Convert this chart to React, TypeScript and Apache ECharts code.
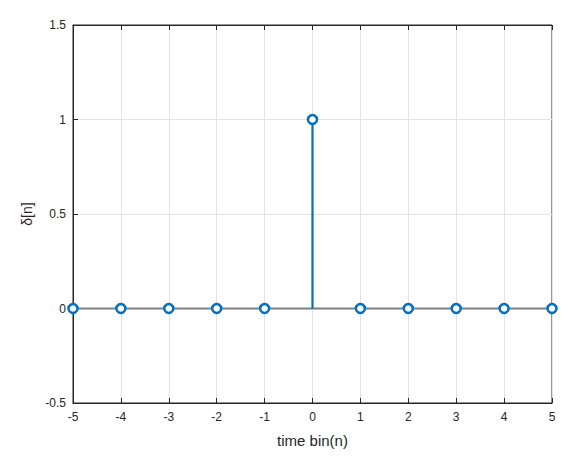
import React, { useEffect, useRef } from "react";
import * as echarts from "echarts";

const nValues = [-5, -4, -3, -2, -1, 0, 1, 2, 3, 4, 5];
const deltaValues = [0, 0, 0, 0, 0, 1, 0, 0, 0, 0, 0];
const xTicks = { min: -5, max: 5, interval: 1 };
const yTicks = { min: -0.5, max: 1.5, interval: 0.5 };
const xLabel = "time bin(n)";
const yLabel = "δ[n]";

export default function App() {
  const ref = useRef<HTMLDivElement>(null);
  useEffect(() => {
    if (!ref.current) return;
    const chart = echarts.init(ref.current, null, { renderer: "svg" });
    const points = nValues.map((n, i) => [n, deltaValues[i]]);
    const blue = "#0072BD";
    const axisColor = "#262626";
    const font = "Arial, 'Liberation Sans', sans-serif";
    chart.setOption({
      animation: false,
      backgroundColor: "#ffffff",
      grid: {
        left: 73,
        right: 33,
        top: 25,
        bottom: 72,
        show: true,
        borderColor: axisColor,
        borderWidth: 1,
        backgroundColor: "#ffffff",
      },
      xAxis: [
        {
          type: "value",
          min: xTicks.min,
          max: xTicks.max,
          interval: xTicks.interval,
          position: "bottom",
          name: xLabel,
          nameLocation: "middle",
          nameGap: 30,
          nameTextStyle: { color: axisColor, fontSize: 15, fontFamily: font },
          axisLine: { show: true, onZero: false, lineStyle: { color: axisColor, width: 1 } },
          axisTick: { show: true, inside: true, length: 5, lineStyle: { color: axisColor } },
          axisLabel: { color: axisColor, fontSize: 12, fontFamily: font, margin: 8 },
          splitLine: { show: true, lineStyle: { color: "#e3e3e3", width: 1 } },
        },
        {
          type: "value",
          min: xTicks.min,
          max: xTicks.max,
          interval: xTicks.interval,
          position: "top",
          axisLine: { show: true, onZero: false, lineStyle: { color: axisColor, width: 1 } },
          axisTick: { show: true, inside: true, length: 5, lineStyle: { color: axisColor } },
          axisLabel: { show: false },
          splitLine: { show: false },
        },
      ],
      yAxis: [
        {
          type: "value",
          min: yTicks.min,
          max: yTicks.max,
          interval: yTicks.interval,
          position: "left",
          name: yLabel,
          nameLocation: "middle",
          nameGap: 37,
          nameRotate: 90,
          nameTextStyle: { color: axisColor, fontSize: 14, fontFamily: font },
          axisLine: { show: true, onZero: false, lineStyle: { color: axisColor, width: 1 } },
          axisTick: { show: true, inside: true, length: 5, lineStyle: { color: axisColor } },
          axisLabel: { color: axisColor, fontSize: 12, fontFamily: font, margin: 7 },
          splitLine: { show: true, lineStyle: { color: "#e3e3e3", width: 1 } },
        },
      ],
      series: [
        {
          type: "line",
          data: [
            [xTicks.min, 0],
            [xTicks.max, 0],
          ],
          showSymbol: false,
          symbol: "none",
          lineStyle: { color: "#808080", width: 2 },
          silent: true,
          z: 2,
        },
        {
          type: "custom",
          data: points,
          z: 3,
          renderItem: (params: any, api: any) => {
            const x = api.value(0);
            const y = api.value(1);
            const p0 = api.coord([x, 0]);
            const p1 = api.coord([x, y]);
            return {
              type: "line",
              shape: { x1: p0[0], y1: p0[1], x2: p1[0], y2: p1[1] },
              style: { stroke: blue, lineWidth: 2.2 },
            };
          },
        },
        {
          type: "scatter",
          data: points,
          symbol: "circle",
          symbolSize: 9,
          itemStyle: { color: "#ffffff", borderColor: blue, borderWidth: 2.5, opacity: 1 },
          z: 4,
        },
      ],
    });
    return () => chart.dispose();
  }, []);
  return (
    <div
      ref={ref}
      style={{ position: "absolute", left: 0, top: 0, width: 585, height: 475 }}
    />
  );
}
